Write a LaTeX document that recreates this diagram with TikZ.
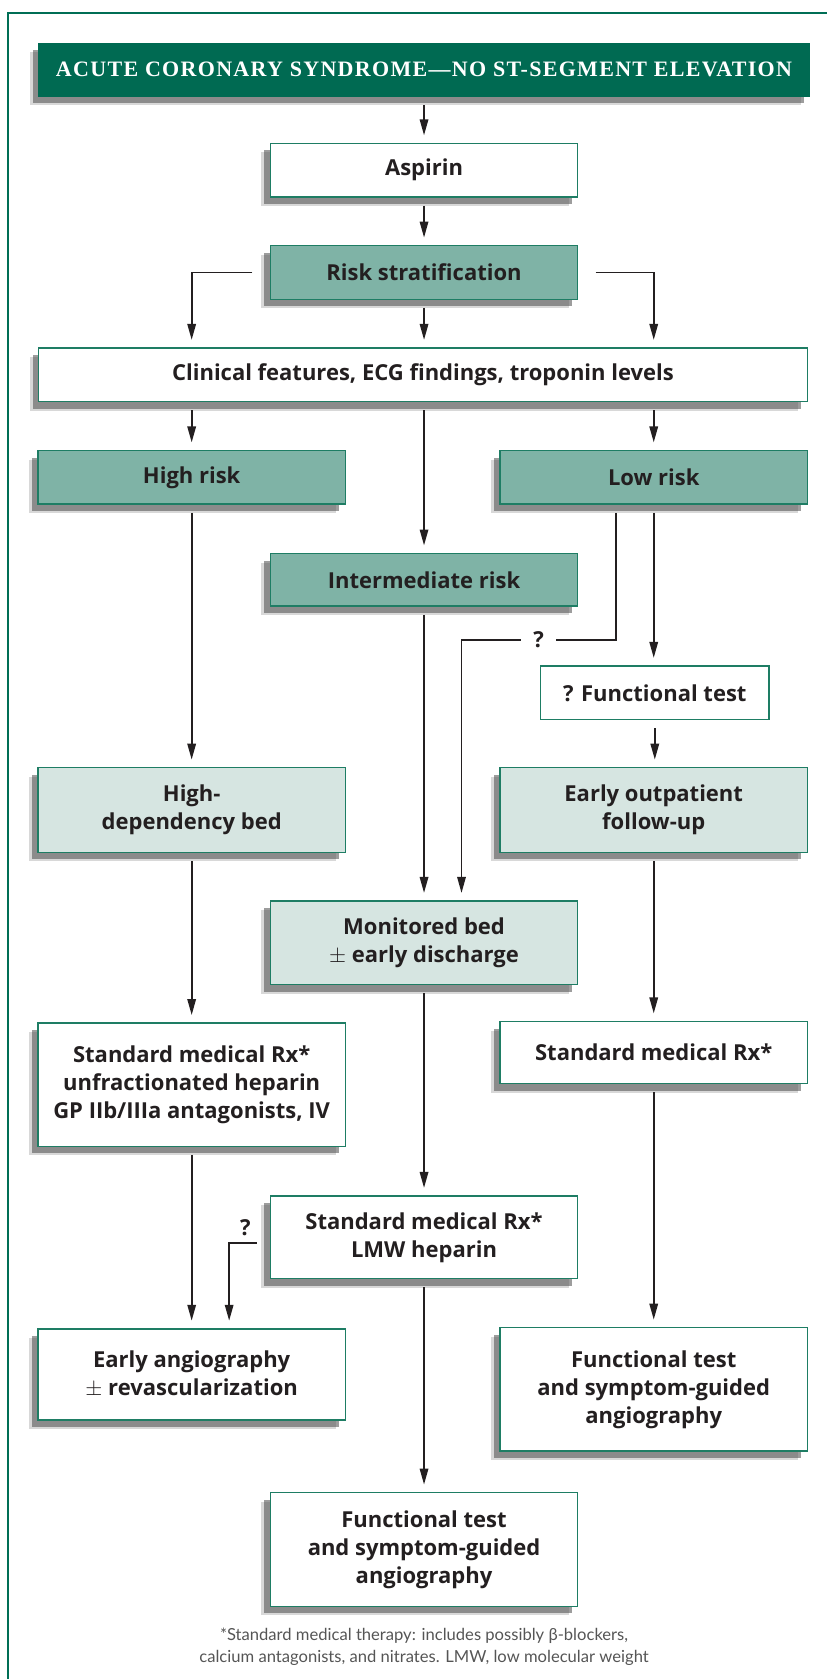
\documentclass[tikz,border=0pt]{standalone}
\usepackage{fontspec}
\setmainfont{Open Sans}
\newfontfamily\titlefont{Liberation Serif}[LetterSpace=6]
\newfontfamily\notefont{Lato}
\usetikzlibrary{arrows.meta,shadows}
\definecolor{framegreen}{RGB}{0,110,85}
\definecolor{titlegreen}{RGB}{0,106,82}
\definecolor{boxline}{RGB}{30,125,100}
\definecolor{riskfill}{RGB}{127,179,166}
\definecolor{bedfill}{RGB}{214,229,225}
\definecolor{ink}{RGB}{35,31,32}
\definecolor{notegray}{RGB}{85,85,85}
\newcommand{\px}{0.5356pt}
\begin{document}
\begin{tikzpicture}[x=0.5356pt, y=-0.5356pt,
    plainbox/.style={draw=boxline, line width=0.7pt, fill=white, text=ink, align=center,
      inner sep=0pt, minimum width=287*\px, minimum height=50*\px,
      font=\fontsize{11}{14}\selectfont\bfseries},
    box/.style={plainbox,
      drop shadow={shadow xshift=-4.5pt, shadow yshift=-4.5pt, fill=black!30, opacity=0.5},
      drop shadow={shadow xshift=-3pt, shadow yshift=-3.5pt, fill=black!70, opacity=0.55}},
    riskbox/.style={box, fill=riskfill},
    bedbox/.style={box, fill=bedfill},
    arr/.style={draw=ink, line width=0.95pt, -{Triangle[length=8pt,width=4.2pt]},
      shorten <=4pt, shorten >=3.7pt},
    qmark/.style={text=ink, font=\fontsize{11}{14}\selectfont\bfseries, inner sep=1pt}]
    \useasboundingbox (0,0) rectangle (772,1568);
    % Frame
    \draw[framegreen, line width=1.2pt] (7.5,1570) |- (774,12);

    % Title
    \node[box, draw=titlegreen, fill=titlegreen, text=white, minimum width=720*\px, minimum height=49.5*\px,
      font=\titlefont\fontsize{11}{12}\selectfont\bfseries] (title) at (396,65.25)
      {ACUTE CORONARY SYNDROME—NO ST-SEGMENT ELEVATION};

    % Boxes
    \node[box] (aspirin) at (396,159) {Aspirin};
    \node[riskbox] (risk) at (396,254.5) {Risk stratification};
    \node[box, minimum width=718*\px] (clin) at (395,350) {Clinical features, ECG findings, troponin levels};
    \node[riskbox] (high) at (179,445.75) {High risk};
    \node[riskbox] (low) at (610.5,445.75) {Low risk};
    \node[riskbox, minimum height=49*\px] (inter) at (396,541.5) {Intermediate risk};
    \node[plainbox, minimum width=213*\px] (ftest) at (611.5,647) {? Functional test};
    \node[bedbox, minimum height=79*\px] (hdb) at (179,756.5) {High-\\dependency bed};
    \node[bedbox, minimum height=79*\px] (eop) at (610.5,756.5) {Early outpatient\\follow-up};
    \node[bedbox, minimum height=78*\px] (mon) at (396,880.5) {Monitored bed\\$\pm$ early discharge};
    \node[box, minimum height=115*\px] (stdl) at (179,1013)
      {Standard medical Rx*\\unfractionated heparin\\GP IIb/IIIa antagonists, IV};
    \node[box, minimum height=58*\px] (stdr) at (610.5,983) {Standard medical Rx*};
    \node[box, minimum height=77*\px] (lmw) at (396,1155.5) {Standard medical Rx*\\LMW heparin};
    \node[box, minimum height=85*\px] (angio) at (179,1283.5) {Early angiography\\$\pm$ revascularization};
    \node[box, minimum height=115*\px] (ftr) at (610.5,1297.5) {Functional test\\and symptom-guided\\angiography};
    \node[box, minimum height=106*\px] (ftm) at (396,1447) {Functional test\\and symptom-guided\\angiography};

    % Footnote
    \node[text=notegray, align=center, font=\notefont\fontsize{8.3}{10.8}\selectfont] (note) at (396,1538)
      {*Standard medical therapy: includes possibly β-blockers,\\calcium antagonists, and nitrates. LMW, low molecular weight};

    % Bend points
    \coordinate (lq) at (575,0);
    \coordinate (qturn) at (431,597.5);
    \coordinate (qturn2) at (214,0);

    % Connectors
    \draw[arr] (title) -- (aspirin);
    \draw[arr] (aspirin) -- (risk);
    \draw[arr] (risk) -- (risk |- clin.north);
    \draw[arr, shorten <=8.6pt] (risk.west) -| (high |- clin.north);
    \draw[arr, shorten <=8.6pt] (risk.east) -| (low |- clin.north);
    \draw[arr] (high |- clin.south) -- (high);
    \draw[arr] (low |- clin.south) -- (low);
    \draw[arr] (inter |- clin.south) -- (inter);
    \draw[arr] (low.south -| lq) |- node[qmark, fill=white, inner xsep=6pt, pos=0.75] {?} (qturn) -- (mon.north -| qturn);
    \draw[arr] (low.south) -- (low.south |- ftest.north);
    \draw[arr] (ftest.south) -- (ftest.south |- eop.north);
    \draw[arr] (high) -- (hdb);
    \draw[arr] (inter) -- (mon);
    \draw[arr] (hdb) -- (stdl);
    \draw[arr] (eop) -- (stdr);
    \draw[arr] (mon) -- (lmw);
    \draw[arr] (stdl) -- (angio);
    \draw[arr, shorten <=6.4pt] ([yshift=-2.7pt]lmw.west) -| node[qmark, above=2pt, pos=0.3] {?} (qturn2 |- angio.north);
    \draw[arr] (stdr) -- (ftr);
    \draw[arr] (lmw) -- (ftm);
\end{tikzpicture}
\end{document}
